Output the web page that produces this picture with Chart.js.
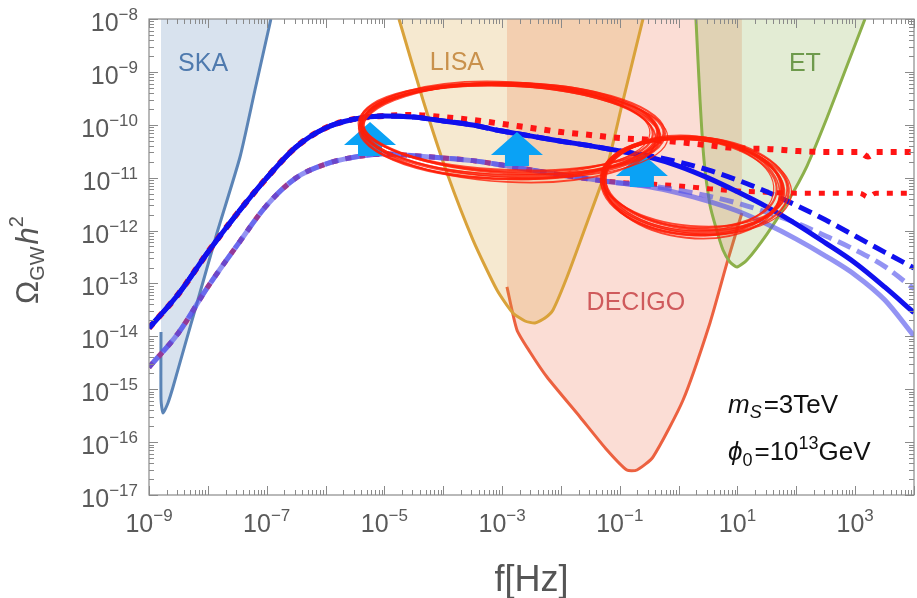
<!DOCTYPE html>
<html>
<head>
<meta charset="utf-8">
<title>GW spectrum</title>
<script src="https://cdn.jsdelivr.net/npm/chart.js@4.4.1/dist/chart.umd.min.js"></script>
<style>
  body { margin: 0; background: #fff; }
  canvas { display: block; }
</style>
</head>
<body>
<canvas id="myChart" width="917" height="598"></canvas>
<script>
// frequency grid [Hz] of the model curves (half decades)
var freqs = [1e-9, 3.16e-9, 1e-8, 3.16e-8, 1e-7, 3.16e-7, 1e-6, 3.16e-6, 1e-5, 3.16e-5,
             1e-4, 3.16e-4, 1e-3, 3.16e-3, 1e-2, 3.16e-2, 0.1, 0.316, 1, 3.16,
             10, 31.6, 100, 316, 1000, 3162, 10000];
// same grid with the little kink near 1.6 kHz of the dotted curves
var freqsDot = [1e-9, 3.16e-9, 1e-8, 3.16e-8, 1e-7, 3.16e-7, 1e-6, 3.16e-6, 1e-5, 3.16e-5,
                1e-4, 3.16e-4, 1e-3, 3.16e-3, 1e-2, 3.16e-2, 0.1, 0.316, 1, 3.16,
                10, 31.6, 100, 316, 1000, 1202, 1648, 2254, 3162, 10000];

// upper set (dark blue)
var upperSolid = [1.44e-14, 6.3e-14, 3.9e-13, 2.1e-12, 9.9e-12, 3.8e-11, 8.7e-11, 1.29e-10, 1.47e-10, 1.40e-10,
                  1.18e-10, 9.9e-11, 7.6e-11, 6.1e-11, 4.9e-11, 4.0e-11, 3.2e-11, 2.46e-11, 1.66e-11, 9.9e-12,
                  5.4e-12, 2.8e-12, 1.33e-12, 5.8e-13, 2.44e-13, 8.6e-14, 2.8e-14];
var upperDashed = [1.44e-14, 6.3e-14, 3.9e-13, 2.1e-12, 9.9e-12, 3.8e-11, 8.7e-11, 1.29e-10, 1.47e-10, 1.40e-10,
                   1.18e-10, 9.9e-11, 7.6e-11, 6.1e-11, 4.9e-11, 4.0e-11, 3.2e-11, 2.6e-11, 1.98e-11, 1.40e-11,
                   9.0e-12, 5.4e-12, 3.0e-12, 1.58e-12, 7.9e-13, 3.9e-13, 1.96e-13];
var upperDotted = [1.44e-14, 6.3e-14, 3.9e-13, 2.1e-12, 9.9e-12, 3.8e-11, 8.7e-11, 1.29e-10, 1.47e-10, 1.53e-10,
                   1.40e-10, 1.23e-10, 1.04e-10, 8.7e-11, 7.3e-11, 6.4e-11, 5.6e-11, 5.2e-11, 4.7e-11, 4.1e-11,
                   3.6e-11, 3.5e-11, 3.2e-11, 3.05e-11, 3.05e-11, 3.05e-11, 2.5e-11, 3.05e-11, 3.05e-11, 3.05e-11];

// lower set (light blue)
var lowerSolid = [2.6e-15, 1.16e-14, 8.6e-14, 5.3e-13, 3.0e-12, 9.9e-12, 1.8e-11, 2.46e-11, 2.8e-11, 2.6e-11,
                  2.36e-11, 2.1e-11, 1.73e-11, 1.40e-11, 1.12e-11, 9.4e-12, 7.9e-12, 6.7e-12, 5.1e-12, 3.6e-12,
                  2.34e-12, 1.33e-12, 6.9e-13, 3.3e-13, 1.45e-13, 4.9e-14, 1.01e-14];
var lowerDashed = [2.6e-15, 1.16e-14, 8.6e-14, 5.3e-13, 3.0e-12, 9.9e-12, 1.8e-11, 2.46e-11, 2.8e-11, 2.6e-11,
                   2.36e-11, 2.1e-11, 1.73e-11, 1.40e-11, 1.12e-11, 9.4e-12, 7.9e-12, 7.0e-12, 5.8e-12, 4.5e-12,
                   3.3e-12, 2.2e-12, 1.39e-12, 7.9e-13, 4.3e-13, 2.1e-13, 7.9e-14];
var lowerDotted = [2.6e-15, 1.16e-14, 8.6e-14, 5.3e-13, 3.0e-12, 9.9e-12, 1.8e-11, 2.46e-11, 2.8e-11, 2.6e-11,
                   2.36e-11, 2.1e-11, 1.73e-11, 1.40e-11, 1.12e-11, 9.4e-12, 8.1e-12, 7.6e-12, 7.0e-12, 6.2e-12,
                   5.6e-12, 5.3e-12, 5.1e-12, 5.1e-12, 5.1e-12, 5.1e-12, 4.3e-12, 5.1e-12, 5.1e-12, 5.1e-12];

// detector sensitivity curves
var skaF = [1.6e-9, 1.6e-9, 1.73e-9, 2.1e-9, 2.56e-9, 4.09e-9, 6.55e-9, 1.43e-8, 3.52e-8, 6.32e-8, 1.18e-7];
var skaOmega = [1.21e-14, 6.3e-16, 3.56e-16, 5.5e-16, 1.10e-15, 6.9e-15, 4.27e-14, 9.0e-13, 2.46e-11, 4.55e-10, 1e-8];
var lisaF = [1.77e-5, 4.53e-5, 1.16e-4, 3.21e-4, 8.19e-4, 1.53e-3, 2.45e-3, 3.62e-3, 5.36e-3, 7.33e-3,
             1.27e-2, 2.77e-2, 6.07e-2, 0.109, 0.248];
var lisaOmega = [1e-8, 2.94e-10, 1.22e-11, 6.6e-13, 7.5e-14, 2.76e-14, 1.95e-14, 1.79e-14, 2.22e-14, 3.15e-14,
                 1.32e-13, 1.39e-12, 1.59e-11, 2.37e-10, 1e-8];
var decigoF = [1.21e-3, 1.79e-3, 2.98e-3, 5.79e-3, 2.11e-2, 6.07e-2, 0.132, 0.196, 0.366, 1.19, 3.41, 6.64, 11.9];
var decigoOmega = [8.6e-14, 1.32e-14, 5.06e-15, 1.70e-15, 2.99e-16, 7.1e-17, 2.97e-17, 2.97e-17, 5.2e-17,
                   6.25e-16, 1.79e-14, 2.44e-13, 2.15e-12];
var etF = [1.97, 2.31, 2.70, 3.41, 4.32, 5.68, 7.46, 9.82, 14.5, 31.7, 69.3, 152, 331, 724, 1469];
var etOmega = [1e-8, 2.94e-10, 2.16e-11, 3.04e-12, 1.12e-12, 4.29e-13, 2.55e-13, 2.05e-13, 2.77e-13, 8.6e-13,
               3.32e-12, 1.66e-11, 1.34e-10, 1.29e-9, 1e-8];

// axis labels (exponents of the labelled decades)
var xLabelExps = [-9, -7, -5, -3, -1, 1, 3];
var yLabelExps = [-8, -9, -10, -11, -12, -13, -14, -15, -16, -17];

// annotation anchors [f, Omega]
var detectorLabels = [['SKA', 8.3e-9, 1.41e-9, '#4f7aae'], ['LISA', 1.71e-4, 1.47e-9, '#c9914c'],
                      ['DECIGO', 0.188, 4.27e-14, '#cf5a5c'], ['ET', 140, 1.41e-9, '#6e9a4c']];
var arrowTips = [[5.7e-6, 1.13e-10], [1.79e-3, 7.3e-11], [0.238, 2.92e-11]];
var rings = [[1.36e-3, 7.96e-11, 149, 46, 0.03], [1.75, 7.26e-12, 90, 47, 0.08]];
var paramPos = [6.9, 3.56e-16, 4.6e-17];

var FONT = '"Liberation Sans", Arial, sans-serif';

function pts(xs, ys) {
  return xs.map(function(x, i) { return { x: x, y: ys[i] }; });
}

function detector(xs, ys, line, fillc, order) {
  return { data: pts(xs, ys), borderColor: line, backgroundColor: fillc, borderWidth: 3,
           fill: 'end', tension: 0.2, cubicInterpolationMode: 'default', order: order };
}

function logTicks(minExp, maxExp) {
  var t = [];
  for (var e = minExp; e <= maxExp; e++) {
    for (var m = 1; m <= 9; m++) {
      if (e === maxExp && m > 1) break;
      t.push({ value: m * Math.pow(10, e), major: m === 1 });
    }
  }
  return t;
}

function drawRich(ctx, parts, x, y, align, color) {
  var w = 0;
  parts.forEach(function(p) { ctx.font = p.f; p.w = ctx.measureText(p.t).width; w += p.w + (p.gap || 0); });
  var sx = align === 'right' ? x - w : (align === 'center' ? x - w / 2 : x);
  ctx.fillStyle = color;
  ctx.textAlign = 'left';
  ctx.textBaseline = 'alphabetic';
  parts.forEach(function(p) {
    ctx.font = p.f;
    ctx.fillText(p.t, sx, y + (p.dy || 0));
    sx += p.w + (p.gap || 0);
  });
}

function expText(e) { return e < 0 ? '\u2212' + Math.abs(e) : String(e); }

var decor = {
  id: 'decor',
  afterDatasetsDraw: function(chart) {
    var ctx = chart.ctx, xs = chart.scales.x, ys = chart.scales.y;
    ctx.save();
    // detector names
    ctx.textAlign = 'center';
    ctx.textBaseline = 'middle';
    ctx.font = '25px ' + FONT;
    detectorLabels.forEach(function(d) {
      ctx.fillStyle = d[3];
      ctx.fillText(d[0], xs.getPixelForValue(d[1]), ys.getPixelForValue(d[2]));
    });
    // parameters
    var px = xs.getPixelForValue(paramPos[0]);
    drawRich(ctx, [{ t: 'm', f: 'italic 26px ' + FONT }, { t: 'S', f: 'italic 18px ' + FONT, dy: 5, gap: 2 },
                   { t: '=3TeV', f: '26px ' + FONT }], px, ys.getPixelForValue(paramPos[1]), 'left', '#111');
    drawRich(ctx, [{ t: '\u03d5', f: 'italic 26px ' + FONT }, { t: '0', f: '18px ' + FONT, dy: 6, gap: 2 },
                   { t: '=10', f: '26px ' + FONT }, { t: '13', f: '18px ' + FONT, dy: -11 },
                   { t: 'GeV', f: '26px ' + FONT }], px, ys.getPixelForValue(paramPos[2]), 'left', '#111');
    // arrows
    ctx.fillStyle = '#0aa2f5';
    arrowTips.forEach(function(a) {
      var tx = xs.getPixelForValue(a[0]), ty = ys.getPixelForValue(a[1]);
      ctx.beginPath();
      ctx.moveTo(tx, ty);
      ctx.lineTo(tx + 26, ty + 23);
      ctx.lineTo(tx + 12, ty + 23);
      ctx.lineTo(tx + 12, ty + 34);
      ctx.lineTo(tx - 12, ty + 34);
      ctx.lineTo(tx - 12, ty + 23);
      ctx.lineTo(tx - 26, ty + 23);
      ctx.closePath();
      ctx.fill();
    });
    // hand drawn red rings: several loose strokes
    var passes = [[0, 0, 0, 3.2], [-4, -3, 0.012, 2.2], [4, 2, -0.012, 2.2], [-2, 4, 0.024, 1.8],
                  [3, -4, 0.006, 1.8], [6, 1, 0.018, 1.2], [-6, -1, -0.006, 1.2], [1, -2, 0.03, 2.6],
                  [-1, 2, -0.02, 2.6]];
    ctx.strokeStyle = 'rgba(255,30,8,0.8)';
    rings.forEach(function(r) {
      var cx = xs.getPixelForValue(r[0]), cy = ys.getPixelForValue(r[1]);
      passes.forEach(function(p) {
        ctx.lineWidth = p[3];
        ctx.beginPath();
        ctx.ellipse(cx + p[0] * 0.5, cy + p[1] * 0.5, r[2] + p[0], r[3] + p[1], r[4] + p[2], 0, Math.PI * 2);
        ctx.stroke();
      });
    });
    ctx.restore();
  },
  afterDraw: function(chart) {
    var ctx = chart.ctx, a = chart.chartArea, xs = chart.scales.x, ys = chart.scales.y;
    ctx.save();
    ctx.strokeStyle = '#8a8a8a';
    ctx.lineWidth = 1.2;
    ctx.strokeRect(a.left, a.top, a.right - a.left, a.bottom - a.top);
    ctx.beginPath();
    xs.ticks.forEach(function(t) {
      var p = Math.round(xs.getPixelForValue(t.value)) + 0.5, len = t.major ? 9 : 5;
      ctx.moveTo(p, a.bottom); ctx.lineTo(p, a.bottom - len);
      ctx.moveTo(p, a.top); ctx.lineTo(p, a.top + len);
    });
    ys.ticks.forEach(function(t) {
      var p = Math.round(ys.getPixelForValue(t.value)) + 0.5, len = t.major ? 9 : 5;
      ctx.moveTo(a.left, p); ctx.lineTo(a.left + len, p);
      ctx.moveTo(a.right, p); ctx.lineTo(a.right - len, p);
    });
    ctx.lineWidth = 1;
    ctx.stroke();
    // tick labels
    xLabelExps.forEach(function(e) {
      drawRich(ctx, [{ t: '10', f: '25px ' + FONT, dy: 37 }, { t: expText(e), f: '17px ' + FONT, dy: 26 }],
               xs.getPixelForValue(Math.pow(10, e)), a.bottom, 'center', '#5a5a5a');
    });
    yLabelExps.forEach(function(e) {
      drawRich(ctx, [{ t: '10', f: '25px ' + FONT, dy: 12 }, { t: expText(e), f: '17px ' + FONT, dy: 1 }],
               a.left - 11, ys.getPixelForValue(Math.pow(10, e)), 'right', '#5a5a5a');
    });
    // axis titles
    drawRich(ctx, [{ t: 'f[Hz]', f: '36px ' + FONT }], (a.left + a.right) / 2, 591, 'center', '#555');
    ctx.translate(38, 260);
    ctx.rotate(-Math.PI / 2);
    drawRich(ctx, [{ t: '\u03a9', f: '31px ' + FONT }, { t: 'GW', f: '20px ' + FONT, dy: 6, gap: 2 },
                   { t: 'h', f: 'italic 31px ' + FONT }, { t: '2', f: '20px ' + FONT, dy: -15 }],
             0, 0, 'center', '#555');
    ctx.restore();
  }
};

var blue = '#1010ee';
var light = 'rgba(80,80,235,0.62)';
var red = '#ff1414';

new Chart(document.getElementById('myChart'), {
  type: 'line',
  data: {
    datasets: [
      { data: pts(freqs, upperSolid), borderColor: blue, borderWidth: 5, order: 1 },
      { data: pts(freqs, upperDashed), borderColor: blue, borderWidth: 5, borderDash: [14, 7], order: 2 },
      { data: pts(freqs, lowerSolid), borderColor: light, borderWidth: 5, order: 3 },
      { data: pts(freqs, lowerDashed), borderColor: light, borderWidth: 5, borderDash: [14, 7], order: 4 },
      { data: pts(freqsDot, upperDotted), borderColor: red, borderWidth: 6, borderDash: [6, 8], order: 5 },
      { data: pts(freqsDot, lowerDotted), borderColor: red, borderWidth: 5, borderDash: [6, 8], order: 6 },
      detector(skaF, skaOmega, '#5b84b6', 'rgba(91,133,183,0.24)', 10),
      detector(lisaF, lisaOmega, '#d9a23a', 'rgba(217,164,60,0.24)', 11),
      detector(decigoF, decigoOmega, '#ec6140', 'rgba(235,98,64,0.22)', 12),
      detector(etF, etOmega, '#8cb04a', 'rgba(140,176,76,0.24)', 9)
    ].map(function(d) {
      return Object.assign({ pointRadius: 0, fill: false, cubicInterpolationMode: 'monotone', clip: 0 }, d);
    })
  },
  options: {
    responsive: false,
    animation: false,
    layout: { padding: { top: 19, right: 3, left: 0, bottom: 0 } },
    plugins: { legend: { display: false }, tooltip: { enabled: false } },
    scales: {
      x: {
        type: 'logarithmic', min: 1e-9, max: 1e4,
        grid: { display: false }, border: { display: false }, ticks: { display: false },
        afterBuildTicks: function(s) { s.ticks = logTicks(-9, 4); },
        afterFit: function(s) { s.height = 103; }
      },
      y: {
        type: 'logarithmic', min: 1e-17, max: 1e-8,
        grid: { display: false }, border: { display: false }, ticks: { display: false },
        afterBuildTicks: function(s) { s.ticks = logTicks(-17, -8); },
        afterFit: function(s) { s.width = 149; }
      }
    }
  },
  plugins: [decor]
});
</script>
</body>
</html>
